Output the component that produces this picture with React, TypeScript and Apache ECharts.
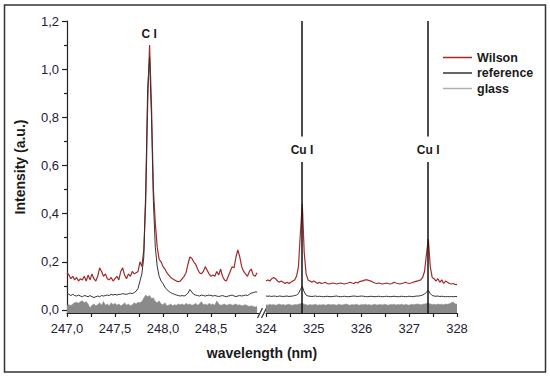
import React, { useEffect, useRef } from "react";
import * as echarts from "echarts";

// ---- Data ----
// Left panel: 247.00 – 248.98 nm, sampled every 0.02 nm
const leftStart = 247.0;
const leftStep = 0.02;
const wilsonLeft = [
  0.155, 0.145, 0.13, 0.14, 0.125, 0.135, 0.12, 0.13, 0.125, 0.14,
  0.12, 0.145, 0.125, 0.15, 0.13, 0.12, 0.14, 0.175, 0.16, 0.14,
  0.15, 0.13, 0.125, 0.135, 0.12, 0.13, 0.14, 0.125, 0.16, 0.175,
  0.145, 0.13, 0.15, 0.14, 0.16, 0.15, 0.155, 0.16, 0.2, 0.18,
  0.25, 0.45, 0.85, 1.1, 0.85, 0.5, 0.36, 0.26, 0.21, 0.2,
  0.18, 0.17, 0.155, 0.145, 0.135, 0.13, 0.125, 0.12, 0.118, 0.12,
  0.13, 0.14, 0.155, 0.19, 0.22, 0.215, 0.2, 0.19, 0.17, 0.155,
  0.15, 0.16, 0.18, 0.165, 0.15, 0.14, 0.145, 0.14, 0.16, 0.145,
  0.17, 0.14, 0.125, 0.12, 0.14, 0.16, 0.18, 0.175, 0.22, 0.25,
  0.22, 0.18, 0.16, 0.15, 0.14, 0.16, 0.17, 0.145, 0.14, 0.155,
];
const referenceLeft = [
  0.07, 0.065, 0.06, 0.065, 0.06, 0.058, 0.062, 0.058, 0.055, 0.06,
  0.058, 0.055, 0.06, 0.055, 0.052, 0.055, 0.058, 0.055, 0.06, 0.058,
  0.06, 0.062, 0.06, 0.065, 0.062, 0.065, 0.062, 0.065, 0.065, 0.068,
  0.066, 0.065, 0.068, 0.07, 0.068, 0.072, 0.078, 0.09, 0.12, 0.15,
  0.22, 0.5, 0.92, 1.05, 0.8, 0.45, 0.26, 0.18, 0.14, 0.12,
  0.11, 0.095, 0.085, 0.078, 0.072, 0.068, 0.065, 0.062, 0.06, 0.058,
  0.06, 0.058, 0.062, 0.07, 0.085, 0.075, 0.065, 0.062, 0.06, 0.058,
  0.062, 0.06, 0.058, 0.06, 0.062, 0.06, 0.058, 0.06, 0.058, 0.056,
  0.058, 0.06, 0.057, 0.055, 0.058, 0.06, 0.062, 0.058, 0.056, 0.058,
  0.06, 0.058, 0.06, 0.062, 0.06, 0.065, 0.07, 0.072, 0.075, 0.075,
];
const glassLeft = [
  0.02, 0.022, 0.018, 0.025, 0.03, 0.032, 0.028, 0.035, 0.038, 0.03,
  0.035, 0.025, 0.008, 0.02, 0.025, 0.018, 0.022, 0.03, 0.02, 0.035,
  0.02, 0.025, 0.018, 0.03, 0.022, 0.028, 0.02, 0.025, 0.018, 0.022,
  0.03, 0.02, 0.025, 0.018, 0.022, 0.03, 0.025, 0.032, 0.03, 0.035,
  0.05, 0.062, 0.055, 0.06, 0.048, 0.05, 0.035, 0.03, 0.038, 0.025,
  0.022, 0.03, 0.018, 0.02, 0.025, 0.018, 0.022, 0.02, 0.025, 0.022,
  0.025, 0.02, 0.028, 0.022, 0.025, 0.02, 0.022, 0.028, 0.02, 0.025,
  0.035, 0.022, 0.025, 0.02, 0.028, 0.022, 0.025, 0.02, 0.038, 0.025,
  0.02, 0.022, 0.025, 0.02, 0.022, 0.025, 0.02, 0.022, 0.025, 0.02,
  0.022, 0.018, 0.02, 0.022, 0.018, 0.015, 0.018, 0.015, 0.012, 0.015,
];

// Right panel: 324.00 – 328.00 nm, sampled every 0.04 nm
const rightStart = 324.0;
const rightStep = 0.04;
const wilsonRight = [
  0.12, 0.125, 0.12, 0.13, 0.135, 0.13, 0.12, 0.115, 0.12, 0.115,
  0.11, 0.115, 0.11, 0.115, 0.12, 0.125, 0.14, 0.18, 0.32, 0.44,
  0.24, 0.15, 0.125, 0.12, 0.115, 0.12, 0.115, 0.11, 0.115, 0.11,
  0.112, 0.115, 0.11, 0.108, 0.11, 0.112, 0.11, 0.108, 0.11, 0.112,
  0.11, 0.108, 0.11, 0.112, 0.115, 0.112, 0.11, 0.115, 0.112, 0.118,
  0.12, 0.122, 0.125, 0.125, 0.122, 0.12, 0.115, 0.112, 0.11, 0.112,
  0.11, 0.108, 0.11, 0.112, 0.11, 0.108, 0.11, 0.115, 0.112, 0.11,
  0.108, 0.11, 0.112, 0.115, 0.112, 0.11, 0.112, 0.115, 0.118, 0.12,
  0.122, 0.125, 0.135, 0.16, 0.23, 0.295, 0.18, 0.135, 0.13, 0.12,
  0.13, 0.115, 0.125, 0.11, 0.12, 0.115, 0.11, 0.108, 0.11, 0.106,
  0.105,
];
const referenceRight = [
  0.058, 0.057, 0.058, 0.056, 0.058, 0.057, 0.056, 0.058, 0.057, 0.056,
  0.057, 0.058, 0.056, 0.057, 0.058, 0.06, 0.062, 0.068, 0.085, 0.098,
  0.075, 0.062, 0.058, 0.057, 0.056, 0.057, 0.058, 0.056, 0.057, 0.056,
  0.055, 0.056, 0.057, 0.056, 0.055, 0.056, 0.057, 0.058, 0.056, 0.055,
  0.056, 0.057, 0.056, 0.055, 0.056, 0.057, 0.058, 0.057, 0.056, 0.057,
  0.058, 0.057, 0.056, 0.055, 0.056, 0.057, 0.056, 0.055, 0.056, 0.057,
  0.056, 0.055, 0.056, 0.057, 0.056, 0.055, 0.056, 0.057, 0.056, 0.055,
  0.056, 0.057, 0.056, 0.055, 0.056, 0.057, 0.056, 0.055, 0.057, 0.058,
  0.058, 0.06, 0.062, 0.066, 0.074, 0.082, 0.068, 0.06, 0.058, 0.057,
  0.058, 0.056, 0.057, 0.056, 0.055, 0.056, 0.055, 0.056, 0.055, 0.056,
  0.056,
];
const glassRight = [
  0.022, 0.02, 0.024, 0.021, 0.023, 0.02, 0.022, 0.025, 0.021, 0.023,
  0.02, 0.022, 0.024, 0.021, 0.02, 0.023, 0.022, 0.024, 0.026, 0.028,
  0.024, 0.022, 0.02, 0.023, 0.021, 0.022, 0.024, 0.02, 0.022, 0.021,
  0.023, 0.02, 0.022, 0.024, 0.021, 0.023, 0.022, 0.02, 0.024, 0.022,
  0.021, 0.023, 0.025, 0.022, 0.02, 0.023, 0.021, 0.024, 0.022, 0.02,
  0.023, 0.022, 0.024, 0.021, 0.023, 0.02, 0.022, 0.024, 0.021, 0.022,
  0.023, 0.021, 0.024, 0.022, 0.02, 0.023, 0.022, 0.024, 0.021, 0.023,
  0.022, 0.024, 0.021, 0.023, 0.022, 0.02, 0.024, 0.022, 0.023, 0.025,
  0.024, 0.022, 0.024, 0.025, 0.027, 0.028, 0.025, 0.023, 0.024, 0.022,
  0.025, 0.023, 0.024, 0.022, 0.025, 0.024, 0.026, 0.03, 0.033, 0.026,
  0.024,
];

// Tick / label values
const yLabelValues = [0, 0.2, 0.4, 0.6, 0.8, 1.0, 1.2];
const yMinorValues = [0.1, 0.3, 0.5, 0.7, 0.9, 1.1];
const leftTickValues = [247, 247.25, 247.5, 247.75, 248, 248.25, 248.5, 248.75];
const leftLabelValues = [247, 247.5, 248, 248.5];
const rightTickValues = [324, 324.5, 325, 325.5, 326, 326.5, 327, 327.5, 328];
const rightLabelValues = [324, 325, 326, 327, 328];

// Line annotations
const cLine = { label: "C I", wl: 247.856, y: 1.146 };
const cuLines = [
  { label: "Cu I", wl: 324.754 },
  { label: "Cu I", wl: 327.396 },
];

const FONT = "'Liberation Sans', Arial, Helvetica, sans-serif";
const RED = "#a3292b";
const BLACK = "#333333";
const GLASS = "#8a8a8a";
const TEXT = "#1c2233";
const Y_MIN = -0.0125;
const Y_MAX = 1.2;

const toPairs = (start: number, step: number, arr: number[]) =>
  arr.map((v, i) => [+(start + i * step).toFixed(3), v]);

const comma = (v: number) => v.toFixed(1).replace(".", ",");

export default function App() {
  const ref = useRef<HTMLDivElement>(null);

  useEffect(() => {
    if (!ref.current) return;
    const chart = echarts.init(ref.current, undefined, { renderer: "svg" });

    const axisLineStyle = { color: "#222", width: 1.2 };
    const labelStyle = { fontSize: 13, color: TEXT, fontFamily: FONT };

    const cuSegments: any[] = [];
    cuLines.forEach((c) => {
      cuSegments.push([{ coord: [c.wl, Y_MIN] }, { coord: [c.wl, 0.615] }]);
      cuSegments.push([{ coord: [c.wl, 0.72] }, { coord: [c.wl, Y_MAX] }]);
    });

    const lineLabel = {
      show: true,
      position: "inside",
      fontSize: 12,
      fontWeight: "bold",
      color: "#1a1a1a",
      fontFamily: FONT,
    };

    const option: any = {
      animation: false,
      backgroundColor: "#ffffff",
      textStyle: { fontFamily: FONT },
      grid: [
        { left: 67, top: 21, width: 192, height: 292 },
        { left: 266, top: 21, width: 191, height: 292 },
      ],
      xAxis: [
        {
          type: "value",
          gridIndex: 0,
          min: 247,
          max: 249,
          axisLine: { show: true, onZero: false, lineStyle: axisLineStyle },
          axisTick: { show: true, customValues: leftTickValues, length: 4, lineStyle: axisLineStyle },
          axisLabel: { ...labelStyle, margin: 9, customValues: leftLabelValues, formatter: (v: number) => comma(v) },
          splitLine: { show: false },
        },
        {
          type: "value",
          gridIndex: 1,
          min: 324,
          max: 328,
          axisLine: { show: true, onZero: false, lineStyle: axisLineStyle },
          axisTick: { show: true, customValues: rightTickValues, length: 4, lineStyle: axisLineStyle },
          axisLabel: { ...labelStyle, margin: 9, customValues: rightLabelValues, formatter: (v: number) => String(Math.round(v)) },
          splitLine: { show: false },
        },
      ],
      yAxis: [
        {
          type: "value",
          gridIndex: 0,
          min: Y_MIN,
          max: Y_MAX,
          name: "Intensity (a.u.)",
          nameLocation: "middle",
          nameGap: 40,
          nameTextStyle: { fontSize: 14, fontWeight: "bold", color: "#1a1a1a", fontFamily: FONT },
          axisLine: { show: true, onZero: false, lineStyle: axisLineStyle },
          axisTick: { show: true, customValues: yLabelValues, length: 5, lineStyle: axisLineStyle },
          axisLabel: { ...labelStyle, margin: 8, customValues: yLabelValues, formatter: (v: number) => comma(v) },
          splitLine: { show: false },
        },
        {
          type: "value",
          gridIndex: 0,
          min: Y_MIN,
          max: Y_MAX,
          position: "left",
          axisLine: { show: false, onZero: false },
          axisTick: { show: true, customValues: yMinorValues, length: 3, lineStyle: axisLineStyle },
          axisLabel: { show: false },
          splitLine: { show: false },
        },
        {
          type: "value",
          gridIndex: 1,
          min: Y_MIN,
          max: Y_MAX,
          show: false,
          splitLine: { show: false },
        },
      ],
      legend: {
        orient: "vertical",
        left: 438,
        top: 46,
        icon: "rect",
        itemWidth: 29,
        itemHeight: 1.5,
        itemGap: 2.5,
        textStyle: { fontSize: 12.5, fontWeight: "bold", color: "#1a1a1a", fontFamily: FONT, lineHeight: 13 },
        data: [
          { name: "Wilson", itemStyle: { color: RED } },
          { name: "reference", itemStyle: { color: BLACK } },
          { name: "glass", itemStyle: { color: "#b0b0b0" } },
        ],
      },
      series: [
        {
          name: "glass",
          type: "line",
          xAxisIndex: 0,
          yAxisIndex: 0,
          data: toPairs(leftStart, leftStep, glassLeft),
          showSymbol: false,
          lineStyle: { color: GLASS, width: 0.5 },
          itemStyle: { color: GLASS },
          areaStyle: { color: GLASS, opacity: 1, origin: "start" },
        },
        {
          name: "Wilson",
          type: "line",
          xAxisIndex: 0,
          yAxisIndex: 0,
          data: toPairs(leftStart, leftStep, wilsonLeft),
          showSymbol: false,
          lineStyle: { color: RED, width: 1.2 },
          itemStyle: { color: RED },
          markPoint: {
            symbol: "circle",
            symbolSize: 1,
            itemStyle: { color: "rgba(0,0,0,0)" },
            label: lineLabel,
            data: [{ coord: [cLine.wl, cLine.y], value: cLine.label, label: { formatter: cLine.label } }],
          },
        },
        {
          name: "reference",
          type: "line",
          xAxisIndex: 0,
          yAxisIndex: 0,
          data: toPairs(leftStart, leftStep, referenceLeft),
          showSymbol: false,
          lineStyle: { color: BLACK, width: 1 },
          itemStyle: { color: BLACK },
        },
        {
          name: "glass",
          type: "line",
          xAxisIndex: 1,
          yAxisIndex: 2,
          data: toPairs(rightStart, rightStep, glassRight),
          showSymbol: false,
          lineStyle: { color: GLASS, width: 0.5 },
          itemStyle: { color: GLASS },
          areaStyle: { color: GLASS, opacity: 1, origin: "start" },
        },
        {
          name: "Wilson",
          type: "line",
          xAxisIndex: 1,
          yAxisIndex: 2,
          data: toPairs(rightStart, rightStep, wilsonRight),
          showSymbol: false,
          lineStyle: { color: RED, width: 1.2 },
          itemStyle: { color: RED },
        },
        {
          name: "reference",
          type: "line",
          xAxisIndex: 1,
          yAxisIndex: 2,
          data: toPairs(rightStart, rightStep, referenceRight),
          showSymbol: false,
          lineStyle: { color: BLACK, width: 1 },
          itemStyle: { color: BLACK },
          markLine: {
            silent: true,
            symbol: ["none", "none"],
            lineStyle: { color: "#111", width: 1.5, type: "solid" },
            label: { show: false },
            data: cuSegments,
          },
          markPoint: {
            symbol: "circle",
            symbolSize: 1,
            itemStyle: { color: "rgba(0,0,0,0)" },
            label: lineLabel,
            data: cuLines.map((c) => ({ coord: [c.wl, 0.665], value: c.label, label: { formatter: c.label } })),
          },
        },
      ],
      graphic: [
        {
          type: "rect",
          shape: { x: 4.5, y: 5, width: 541, height: 367 },
          style: { fill: "none", stroke: "#333", lineWidth: 1.5 },
          silent: true,
        },
        {
          type: "line",
          shape: { x1: 257.5, y1: 318, x2: 262.5, y2: 308 },
          style: { stroke: "#333", lineWidth: 1.2 },
          silent: true,
        },
        {
          type: "line",
          shape: { x1: 261.5, y1: 318, x2: 266.5, y2: 308 },
          style: { stroke: "#333", lineWidth: 1.2 },
          silent: true,
        },
        {
          type: "text",
          x: 262,
          y: 353,
          style: {
            text: "wavelength (nm)",
            fontSize: 14,
            fontWeight: "bold",
            fill: "#1a1a1a",
            fontFamily: FONT,
            textAlign: "center",
            textVerticalAlign: "middle",
          },
          silent: true,
        },
      ],
    };

    chart.setOption(option);
    return () => chart.dispose();
  }, []);

  return (
    <div
      ref={ref}
      style={{ position: "fixed", left: 0, top: 0, width: 550, height: 377, background: "#fff" }}
    />
  );
}
